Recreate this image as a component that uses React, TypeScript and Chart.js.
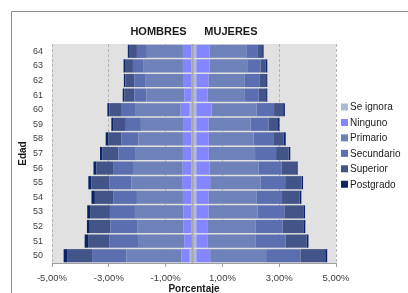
import React, { useEffect, useRef } from "react";
import { Chart, registerables } from "chart.js";

Chart.register(...registerables);

// Age groups (top to bottom)
const ages = ["64", "63", "62", "61", "60", "59", "58", "57", "56", "55", "54", "53", "52", "51", "50"];

// Education levels (stacked from the centre outward)
const levels = ["Se ignora", "Ninguno", "Primario", "Secundario", "Superior", "Postgrado"];
const levelColors = ["#adb9da", "#8585ff", "#6e81b8", "#5a6eb0", "#435488", "#0c2268"];

// Men (percent of population, drawn to the left)
const menSeIgnora = [0.09, 0.09, 0.08, 0.08, 0.15, 0.08, 0.09, 0.09, 0.09, 0.10, 0.09, 0.08, 0.08, 0.06, 0.15];
const menNinguno = [0.30, 0.30, 0.28, 0.26, 0.32, 0.28, 0.30, 0.30, 0.31, 0.32, 0.30, 0.29, 0.29, 0.28, 0.29];
const menPrimario = [1.27, 1.38, 1.34, 1.34, 1.58, 1.51, 1.57, 1.66, 1.72, 1.78, 1.62, 1.71, 1.63, 1.63, 1.94];
const menSecundario = [0.35, 0.38, 0.40, 0.42, 0.52, 0.53, 0.59, 0.61, 0.73, 0.77, 0.82, 0.88, 0.94, 1.00, 1.21];
const menSuperior = [0.28, 0.28, 0.32, 0.35, 0.41, 0.45, 0.47, 0.56, 0.59, 0.64, 0.66, 0.70, 0.73, 0.76, 0.88];
const menPostgrado = [0.04, 0.05, 0.05, 0.06, 0.07, 0.06, 0.09, 0.09, 0.10, 0.11, 0.12, 0.10, 0.10, 0.12, 0.12];

// Women (percent of population, drawn to the right)
const womenSeIgnora = [0.08, 0.08, 0.08, 0.08, 0.08, 0.08, 0.08, 0.08, 0.08, 0.08, 0.08, 0.08, 0.08, 0.08, 0.08];
const womenNinguno = [0.47, 0.47, 0.43, 0.40, 0.54, 0.43, 0.44, 0.44, 0.47, 0.49, 0.43, 0.43, 0.41, 0.39, 0.49];
const womenPrimario = [1.29, 1.35, 1.28, 1.29, 1.58, 1.48, 1.58, 1.63, 1.72, 1.77, 1.70, 1.73, 1.67, 1.69, 1.97];
const womenSecundario = [0.41, 0.45, 0.51, 0.51, 0.62, 0.64, 0.69, 0.74, 0.81, 0.87, 0.89, 0.94, 0.96, 1.06, 1.21];
const womenSuperior = [0.15, 0.18, 0.24, 0.26, 0.32, 0.33, 0.37, 0.44, 0.52, 0.58, 0.62, 0.67, 0.73, 0.74, 0.87];
const womenPostgrado = [0.05, 0.05, 0.04, 0.04, 0.06, 0.05, 0.07, 0.06, 0.05, 0.05, 0.06, 0.06, 0.07, 0.07, 0.07];

// X-axis ticks (percent)
const xTicks = [-5, -3, -1, 1, 3, 5];

const menSeries = [menSeIgnora, menNinguno, menPrimario, menSecundario, menSuperior, menPostgrado];
const womenSeries = [womenSeIgnora, womenNinguno, womenPrimario, womenSecundario, womenSuperior, womenPostgrado];

const FONT = "'Liberation Sans', Arial, sans-serif";

const decor = {
  id: "decor",
  beforeDraw(chart: any) {
    const { ctx, chartArea: a } = chart;
    ctx.save();
    ctx.fillStyle = "#ffffff";
    ctx.fillRect(0, 0, chart.width, chart.height);
    ctx.fillStyle = "#e1e1e1";
    ctx.fillRect(a.left, a.top, a.right - a.left, a.bottom - a.top);
    ctx.restore();
  },
  afterDatasetsDraw(chart: any) {
    const { ctx, chartArea: a } = chart;
    const x = chart.scales.x.getPixelForValue(-0.05);
    ctx.save();
    ctx.strokeStyle = "#a8a8a8";
    ctx.lineWidth = 2;
    ctx.beginPath();
    ctx.moveTo(x, a.top);
    ctx.lineTo(x, a.bottom);
    ctx.stroke();
    ctx.restore();
  },
  afterDraw(chart: any) {
    const { ctx, chartArea: a } = chart;
    const xs = chart.scales.x;
    ctx.save();
    // outer frame
    ctx.strokeStyle = "#8c8c8c";
    ctx.lineWidth = 1;
    ctx.beginPath();
    ctx.moveTo(11.5, chart.height + 2);
    ctx.lineTo(11.5, 11.5);
    ctx.lineTo(chart.width + 2, 11.5);
    ctx.stroke();
    // side titles
    ctx.fillStyle = "#1a1a1a";
    ctx.font = `bold 11px ${FONT}`;
    ctx.textAlign = "center";
    ctx.textBaseline = "middle";
    ctx.fillText("HOMBRES", xs.getPixelForValue(-1.25), 32);
    ctx.fillText("MUJERES", xs.getPixelForValue(1.3), 32);
    // legend
    ctx.font = `10px ${FONT}`;
    ctx.textAlign = "left";
    const lx = a.right + 5;
    levels.forEach((name, i) => {
      const cy = 107 + i * 15.45;
      ctx.fillStyle = levelColors[i];
      ctx.fillRect(lx, cy - 3.5, 7, 7);
      ctx.fillStyle = "#1a1a1a";
      ctx.fillText(name, lx + 9, cy + 0.5);
    });
    ctx.restore();
  },
};

export default function App() {
  const ref = useRef<HTMLCanvasElement | null>(null);

  useEffect(() => {
    if (!ref.current) return;
    const datasets: any[] = [];
    levels.forEach((name, i) => {
      datasets.push({
        label: name + " H",
        data: menSeries[i].map((v) => -v),
        backgroundColor: levelColors[i],
        borderWidth: 0,
        stack: "s",
      });
    });
    levels.forEach((name, i) => {
      datasets.push({
        label: name + " M",
        data: womenSeries[i],
        backgroundColor: levelColors[i],
        borderWidth: 0,
        stack: "s",
      });
    });

    const chart = new Chart(ref.current, {
      type: "bar",
      data: { labels: ages, datasets },
      plugins: [decor],
      options: {
        indexAxis: "y",
        responsive: false,
        animation: false,
        devicePixelRatio: 1,
        layout: { padding: { left: 12, right: 72, top: 44, bottom: 0 } },
        datasets: { bar: { barPercentage: 0.9, categoryPercentage: 1 } },
        plugins: {
          legend: { display: false },
          tooltip: { enabled: false },
          title: { display: false },
        },
        scales: {
          x: {
            stacked: true,
            min: -5,
            max: 5,
            afterBuildTicks: (scale: any) => {
              scale.ticks = xTicks.map((v) => ({ value: v }));
            },
            afterFit: (scale: any) => {
              scale.height = 30;
            },
            grid: {
              color: "#b4b4b4",
              tickColor: "#a0a0a0",
              tickLength: 4,
              drawOnChartArea: true,
            },
            border: { display: true, color: "#a0a0a0", width: 1, dash: [3, 2] },
            ticks: {
              padding: 6,
              color: "#404040",
              font: { family: FONT, size: 9.5 },
              maxRotation: 0,
              callback: (v: any) => Number(v).toFixed(2).replace(".", ",") + "%",
            },
            title: {
              display: true,
              text: "Porcentaje",
              color: "#1a1a1a",
              font: { family: FONT, size: 10, weight: "bold" },
              padding: { top: 0, bottom: -2 },
            },
          },
          y: {
            stacked: true,
            afterFit: (scale: any) => {
              scale.width = 40;
            },
            grid: { display: false, drawTicks: false },
            border: { display: false },
            ticks: {
              padding: 9,
              color: "#404040",
              font: { family: FONT, size: 9 },
            },
            title: {
              display: true,
              text: "Edad",
              color: "#1a1a1a",
              font: { family: FONT, size: 10, weight: "bold" },
              padding: { top: 5.5, bottom: 0 },
            },
          },
        },
      } as any,
    });
    return () => chart.destroy();
  }, []);

  return (
    <div style={{ position: "fixed", left: 0, top: 0, width: 408, height: 293, overflow: "hidden", background: "#fff" }}>
      <canvas ref={ref} width={408} height={293} style={{ display: "block", width: 408, height: 293 }} />
    </div>
  );
}
